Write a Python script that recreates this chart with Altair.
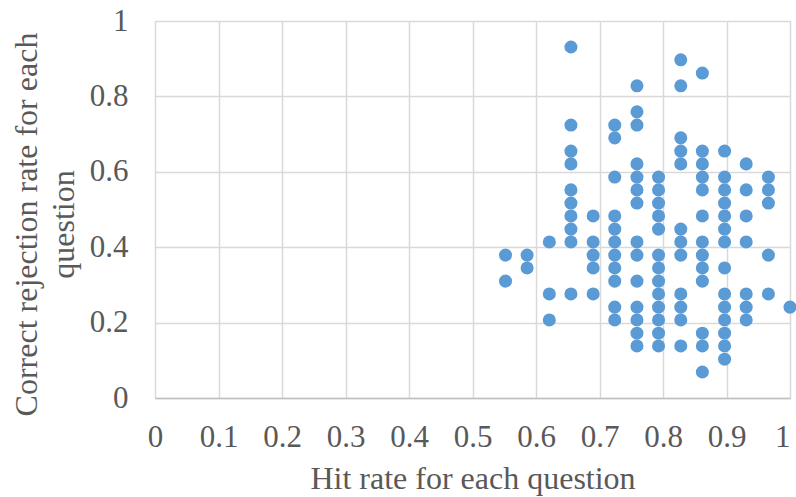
import altair as alt
import pandas as pd

# Hit rate (x) for each column of points
hit_rates = [0.552, 0.586, 0.621, 0.655, 0.690, 0.724, 0.759,
             0.793, 0.828, 0.862, 0.897, 0.931, 0.966, 1.000]

# Correct rejection rates (y) found at each hit rate
cr_rates = [
    [0.379, 0.310],
    [0.379, 0.345],
    [0.414, 0.276, 0.207],
    [0.931, 0.724, 0.655, 0.621, 0.552, 0.517, 0.483, 0.448, 0.414, 0.276],
    [0.483, 0.414, 0.379, 0.345, 0.276],
    [0.724, 0.690, 0.586, 0.483, 0.448, 0.414, 0.379, 0.345, 0.310, 0.241, 0.207],
    [0.828, 0.759, 0.724, 0.621, 0.586, 0.552, 0.517, 0.414, 0.379, 0.310,
     0.241, 0.207, 0.172, 0.138],
    [0.586, 0.552, 0.517, 0.483, 0.448, 0.379, 0.345, 0.310, 0.276, 0.241,
     0.207, 0.172, 0.138],
    [0.897, 0.828, 0.690, 0.655, 0.621, 0.448, 0.414, 0.379, 0.276, 0.241,
     0.207, 0.138],
    [0.862, 0.655, 0.621, 0.586, 0.552, 0.483, 0.414, 0.379, 0.345, 0.310,
     0.172, 0.138, 0.069],
    [0.655, 0.586, 0.552, 0.517, 0.483, 0.448, 0.414, 0.345, 0.276, 0.241,
     0.207, 0.172, 0.138, 0.103],
    [0.621, 0.552, 0.483, 0.414, 0.276, 0.241, 0.207],
    [0.586, 0.552, 0.517, 0.379, 0.276],
    [0.241],
]

x_ticks = [0, 0.1, 0.2, 0.3, 0.4, 0.5, 0.6, 0.7, 0.8, 0.9, 1]
y_ticks = [0, 0.2, 0.4, 0.6, 0.8, 1]

rows = []
for h, ys in zip(hit_rates, cr_rates):
    for c in ys:
        rows.append({"hit": h, "cr": c})
df = pd.DataFrame(rows)

FONT = "Liberation Serif"
TXT = "#595959"

chart = alt.Chart(df).mark_circle(
    size=170, color="#5b9bd5", opacity=1
).encode(
    x=alt.X(
        "hit:Q",
        scale=alt.Scale(domain=[0, 1], nice=False, zero=False),
        axis=alt.Axis(
            values=x_ticks, format="~g", title="Hit rate for each question",
            grid=True, gridColor="#d9d9d9", gridWidth=1.5,
            domain=True, domainColor="#bfbfbf", domainWidth=1.5,
            ticks=False, tickSize=0,
            labelFont=FONT, labelFontSize=31, labelColor=TXT,
            labelBaseline="alphabetic", labelPadding=48,
            labelAlign=alt.ExprRef("datum.value == 1 ? 'right' : 'center'"),
            labelFlush=False, labelOverlap=False,
            titleFont=FONT, titleFontSize=32, titleColor=TXT,
            titleFontWeight="normal", titleBaseline="alphabetic",
            titleY=90, titleX=317.5, titleAlign="center",
        ),
    ),
    y=alt.Y(
        "cr:Q",
        scale=alt.Scale(domain=[0, 1], nice=False, zero=False),
        axis=alt.Axis(
            values=y_ticks, format="~g",
            title=["Correct rejection rate for each", "question"],
            grid=True, gridColor="#d9d9d9", gridWidth=1.5,
            domain=False, ticks=False, tickSize=0,
            labelFont=FONT, labelFontSize=31, labelColor=TXT,
            labelBaseline="middle", labelPadding=27, labelAlign="right",
            labelFlush=False, labelOverlap=False,
            titleFont=FONT, titleFontSize=32, titleColor=TXT,
            titleFontWeight="normal", titleAngle=270,
            titleBaseline="alphabetic", titleAlign="center",
            titleLineHeight=37, titleX=-119, titleY=203,
        ),
    ),
).properties(
    width=635, height=377,
    autosize=alt.AutoSizeParams(type="none"),
    padding={"left": 155, "top": 21, "right": 6, "bottom": 99},
).configure_view(stroke=None).configure(background="white")

chart.save("out.html", embed_options={"renderer": "svg", "actions": False})
